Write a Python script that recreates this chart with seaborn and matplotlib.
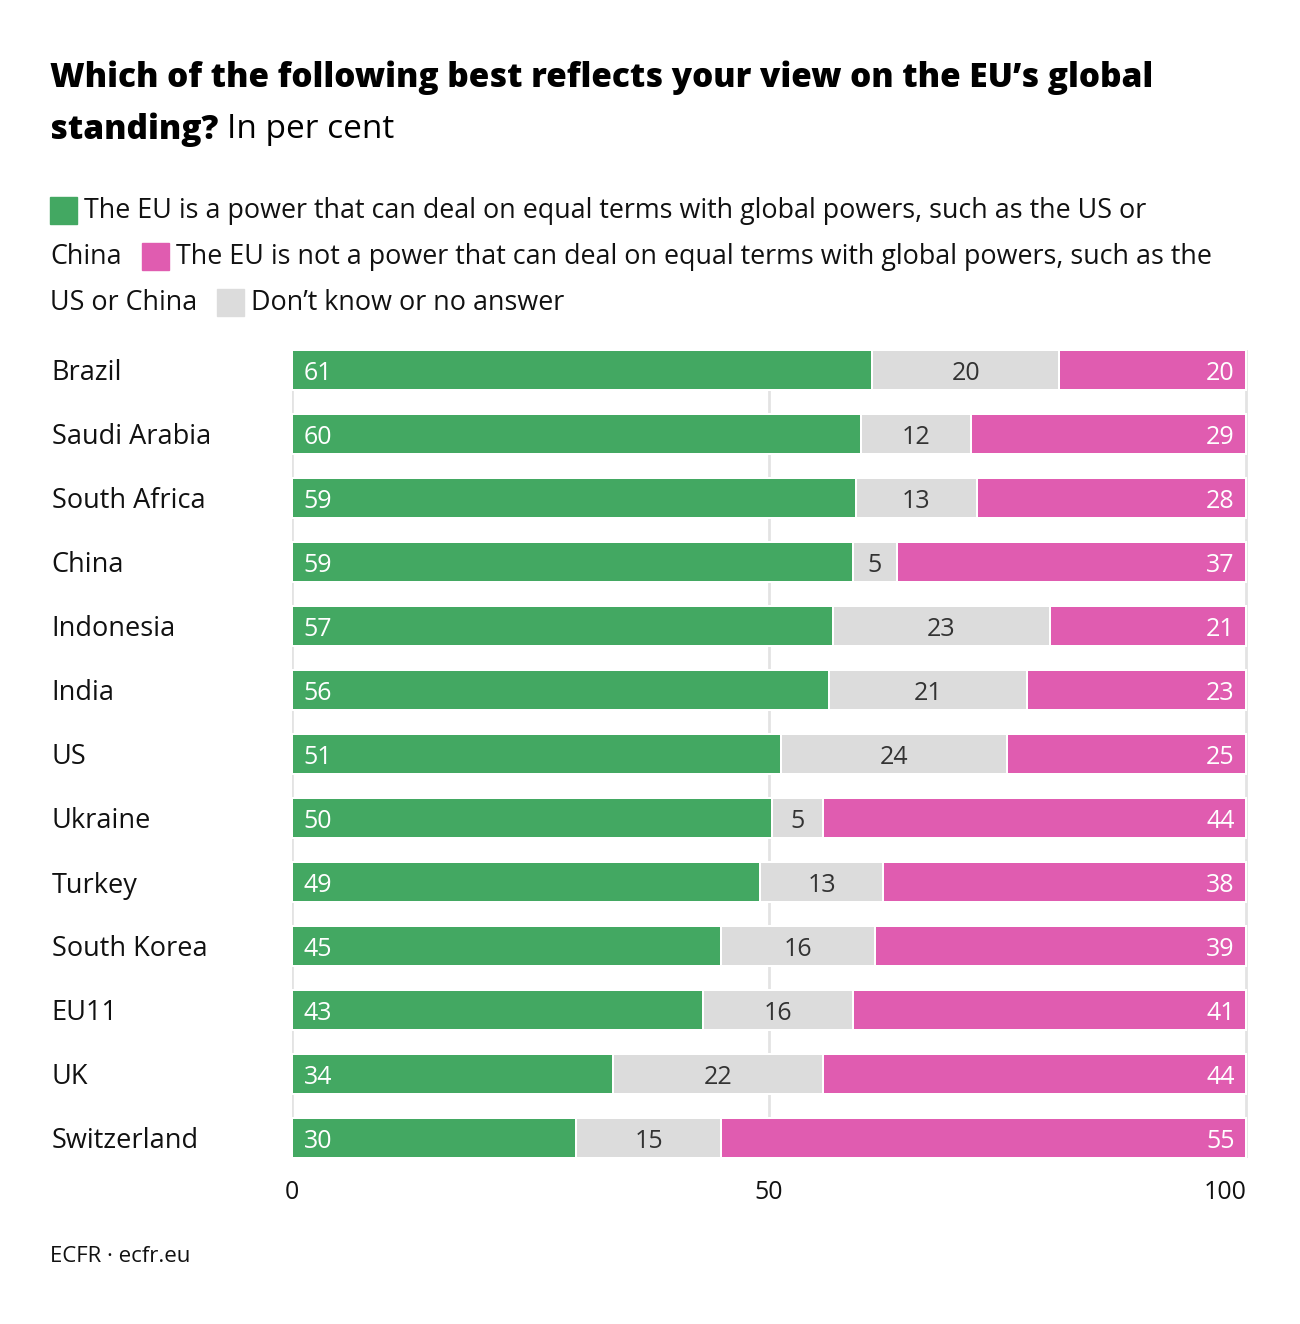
import matplotlib
matplotlib.use("Agg")
import matplotlib.pyplot as plt
import matplotlib.patches as mpatches
import seaborn as sns
import pandas as pd

# Data (shares, in per cent)
countries = ["Brazil", "Saudi Arabia", "South Africa", "China", "Indonesia", "India", "US",
             "Ukraine", "Turkey", "South Korea", "EU11", "UK", "Switzerland"]
can_deal = [60.8, 59.6, 59.1, 58.8, 56.7, 56.3, 51.3, 50.3, 49.1, 45.0, 43.1, 33.6, 29.8]
dont_know = [19.6, 11.6, 12.7, 4.6, 22.7, 20.7, 23.6, 5.4, 12.8, 16.1, 15.7, 22.1, 15.2]
cannot_deal = [19.6, 28.8, 28.2, 36.6, 20.6, 23.0, 25.1, 44.3, 38.1, 38.9, 41.2, 44.3, 55.0]
x_ticks = [0, 50, 100]

GREEN = "#43a862"
PINK = "#e05cb0"
GREY = "#dcdcdc"
TXT = "#111111"
FONT = "Open Sans"

df = pd.DataFrame({"country": countries, "can": can_deal, "dk": dont_know, "cannot": cannot_deal})
df["cum_dk"] = df["can"] + df["dk"]
df["cum_all"] = df["cum_dk"] + df["cannot"]

sns.set_style("white")
plt.rcParams["font.family"] = [FONT, "DejaVu Sans"]

W, H = 1300, 1324
fig = plt.figure(figsize=(W / 100, H / 100), dpi=100)
ax = fig.add_axes([292 / W, 1 - 1158 / H, (1248 - 292) / W, (1158 - 350) / H])

# stacked bars: draw cumulative totals back to front
for col, color in [("cum_all", PINK), ("cum_dk", GREY), ("can", GREEN)]:
    sns.barplot(data=df, x=col, y="country", color=color, saturation=1, width=0.625,
                orient="h", edgecolor="white", linewidth=1.44, ax=ax, zorder=3)

ax.set_xlim(0, 100.2)
ax.set_ylim(len(countries) - 1 + 0.3125, -0.3125)
ax.set_xticks(x_ticks)
ax.set_xticklabels([str(t) for t in x_ticks], fontsize=18, color=TXT)
ax.get_xticklabels()[-1].set_ha("right")
ax.grid(axis="x", color="#e3e3e3", linewidth=2, zorder=0)
ax.grid(axis="y", visible=False)
ax.tick_params(axis="x", length=0, pad=16)
ax.tick_params(axis="y", length=0, pad=173)
for lab in ax.get_yticklabels():
    lab.set_ha("left")
    lab.set_fontsize(19.5)
    lab.set_color(TXT)
ax.set_xlabel("")
ax.set_ylabel("")
sns.despine(ax=ax, left=True, bottom=True)

# value labels
for i, row in df.iterrows():
    ax.text(1.2, i, f"{row['can']:.0f}", va="center_baseline", ha="left", color="white",
            fontsize=18, zorder=5)
    ax.text(row["can"] + row["dk"] / 2, i, f"{row['dk']:.0f}", va="center_baseline", ha="center",
            color="#333333", fontsize=18, zorder=5)
    ax.text(row["cum_all"] - 1.2, i, f"{row['cannot']:.0f}", va="center_baseline", ha="right",
            color="white", fontsize=18, zorder=5)

renderer = fig.canvas.get_renderer()


def put(x, y, s, **kw):
    """place text at pixel coords (left, vertical centre); return right edge in px"""
    t = fig.text(x / W, 1 - y / H, s, va="center", ha="left", color=kw.pop("color", TXT), **kw)
    bb = t.get_window_extent(renderer=renderer)
    return bb.x1


def square(x, y, color):
    fig.patches.append(mpatches.Rectangle((x / W, 1 - (y + 13) / H), 27 / W, 27 / H,
                                          color=color, transform=fig.transFigure, figure=fig))
    return x + 27


# title
put(50, 78, "Which of the following best reflects your view on the EU\u2019s global",
    fontsize=24, fontweight="heavy", color="black")
x = put(50, 130, "standing?", fontsize=24, fontweight="heavy", color="black")
put(x + 9, 130, "In per cent", fontsize=24, color="black")

# legend (flowing text)
lfs = 19.4
x = square(50, 211, GREEN)
put(x + 7, 211, "The EU is a power that can deal on equal terms with global powers, such as the US or",
    fontsize=lfs)
x = put(50, 257, "China", fontsize=lfs)
x = square(x + 20, 257, PINK)
put(x + 7, 257, "The EU is not a power that can deal on equal terms with global powers, such as the",
    fontsize=lfs)
x = put(50, 303, "US or China", fontsize=lfs)
x = square(x + 20, 303, GREY)
put(x + 7, 303, "Don\u2019t know or no answer", fontsize=lfs)

# footer
put(50, 1257, "ECFR \u00b7 ecfr.eu", fontsize=16)

fig.savefig("out.png", dpi=100, facecolor="white")
